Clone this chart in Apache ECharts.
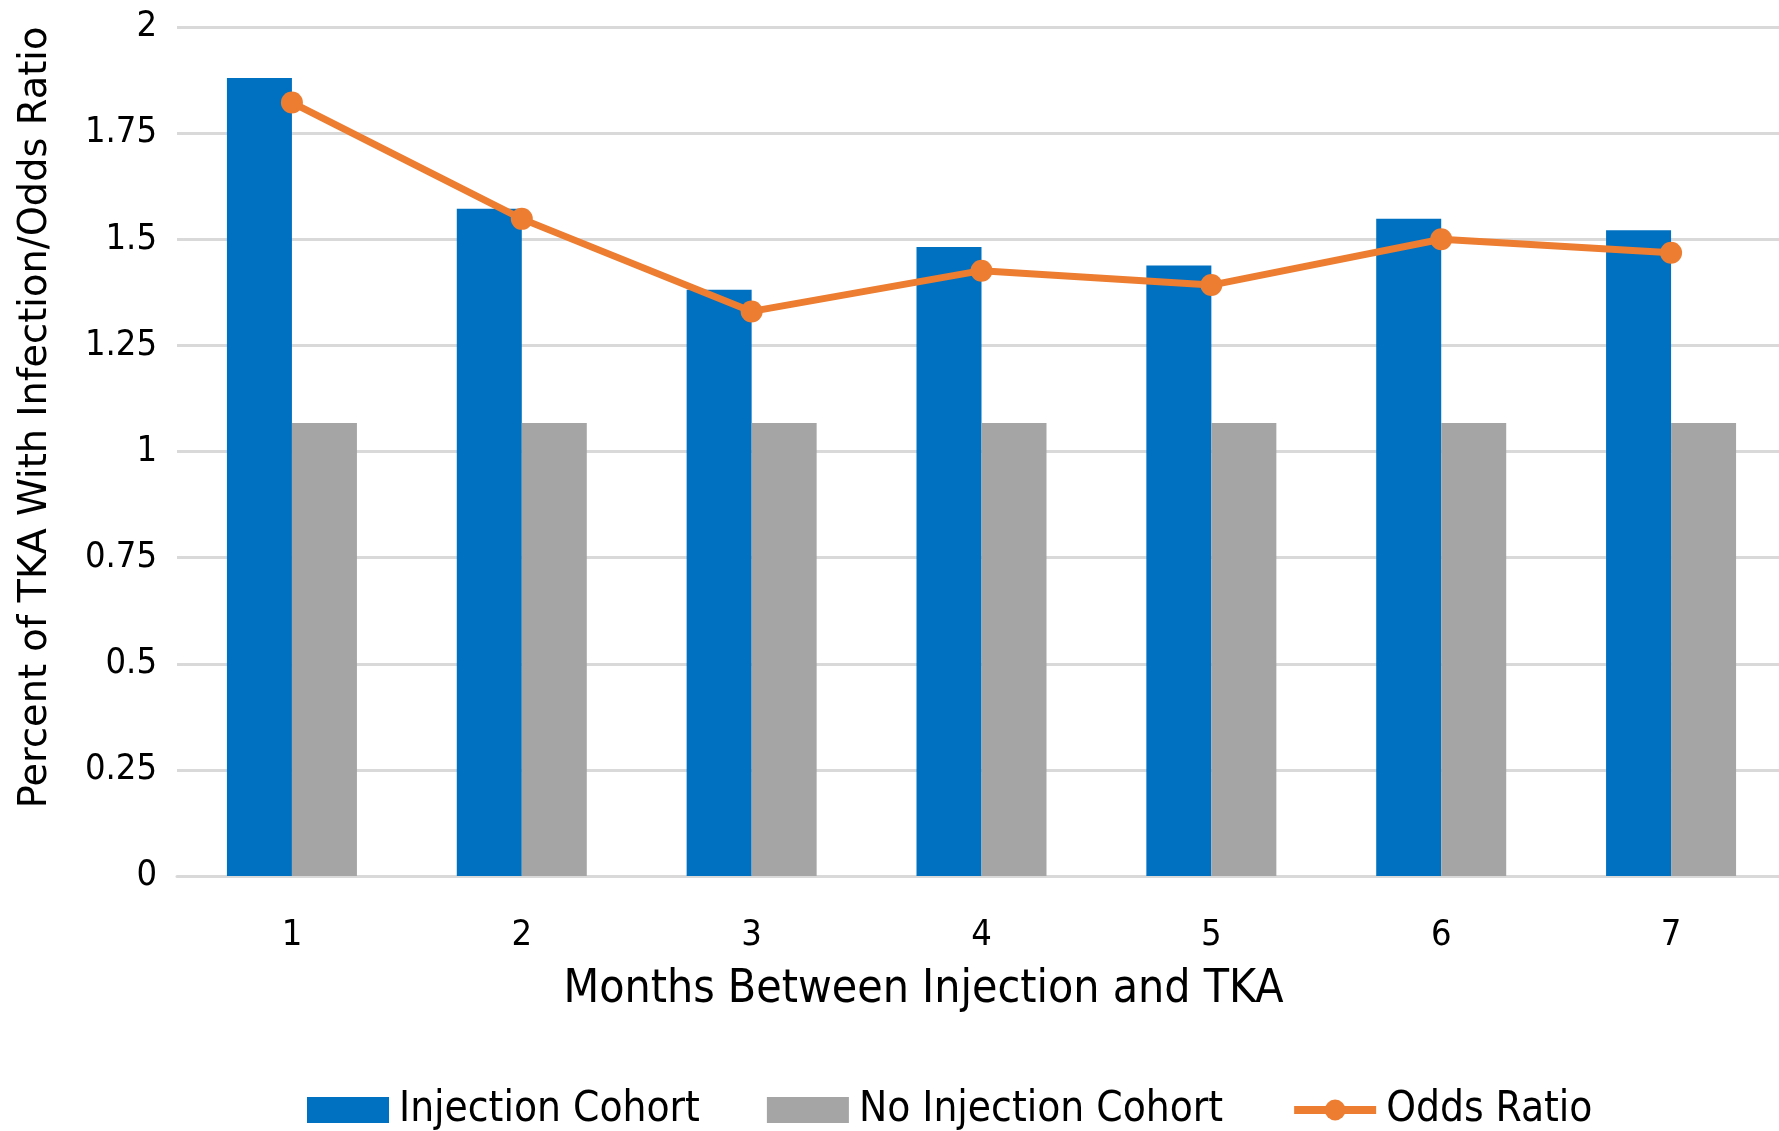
<!DOCTYPE html>
<html>
<head>
<meta charset="utf-8">
<script src="https://cdn.jsdelivr.net/npm/echarts@6/dist/echarts.min.js"></script>
<style>
  html, body { margin: 0; padding: 0; background: #ffffff; overflow: hidden; }
  /* the plot area runs a few pixels past the right edge of the page */
  #chart { width: 1786px; height: 1131px; }
</style>
</head>
<body>
<div id="chart"></div>
<script>
// Months between injection and TKA
const months = ['1', '2', '3', '4', '5', '6', '7'];
// Percent of TKA with infection, by cohort
const injectionCohort = [1.88, 1.572, 1.381, 1.482, 1.438, 1.548, 1.521];
const noInjectionCohort = [1.067, 1.067, 1.067, 1.067, 1.067, 1.067, 1.067];
// Odds ratio of infection, injection vs. no injection
const oddsRatio = [1.822, 1.548, 1.33, 1.426, 1.392, 1.50, 1.468];
// Value axis ticks
const yTicks = [0, 0.25, 0.5, 0.75, 1, 1.25, 1.5, 1.75, 2];

const narrow = "'DejaVu Sans Condensed', 'Liberation Sans Narrow', 'Open Sans', sans-serif";
const chart = echarts.init(document.getElementById('chart'), null, { renderer: 'canvas' });

chart.setOption({
  backgroundColor: '#ffffff',
  animation: false,
  grid: { left: 177, right: 0, top: 27, bottom: 255, containLabel: false },
  legend: {
    top: 1084,
    left: 302,
    itemWidth: 82,
    itemHeight: 26,
    itemGap: 67,
    textStyle: { fontFamily: narrow, fontSize: 42, color: '#000000', padding: [0, 0, 0, 5] },
    data: [
      { name: 'Injection Cohort', icon: 'rect' },
      { name: 'No Injection Cohort', icon: 'rect' },
      { name: 'Odds Ratio', lineStyle: { width: 8 } }
    ]
  },
  xAxis: {
    type: 'category',
    data: months,
    name: 'Months Between Injection and TKA',
    nameLocation: 'middle',
    nameGap: 91,
    nameTextStyle: { fontFamily: narrow, fontSize: 46, color: '#000000', padding: [0, 116, 0, 0] },
    axisLine: { show: true, lineStyle: { color: '#D9D9D9', width: 3 } },
    axisTick: { show: false },
    axisLabel: { fontFamily: narrow, fontSize: 36, color: '#000000', margin: 42 }
  },
  yAxis: {
    type: 'value',
    min: 0,
    max: 2,
    interval: 0.25,
    name: 'Percent of TKA With Infection/Odds Ratio',
    nameLocation: 'middle',
    nameGap: 122,
    nameTextStyle: { fontFamily: "'DejaVu Sans', sans-serif", fontSize: 38.4, color: '#000000', padding: [0, 0, 0, 68] },
    axisLine: { show: false },
    axisTick: { show: false },
    splitLine: { lineStyle: { color: '#D9D9D9', width: 3 } },
    axisLabel: {
      fontFamily: narrow, fontSize: 36, color: '#000000', margin: 20,
      formatter: v => (yTicks.includes(v) ? String(v) : '')
    }
  },
  series: [
    {
      name: 'Injection Cohort',
      type: 'bar',
      data: injectionCohort,
      barWidth: 65,
      barGap: '0%',
      itemStyle: { color: '#0070C0' }
    },
    {
      name: 'No Injection Cohort',
      type: 'bar',
      data: noInjectionCohort,
      barWidth: 65,
      itemStyle: { color: '#A5A5A5' }
    },
    {
      name: 'Odds Ratio',
      type: 'line',
      data: oddsRatio,
      symbol: 'circle',
      symbolSize: 22,
      lineStyle: { color: '#ED7D31', width: 7 },
      itemStyle: { color: '#ED7D31' },
      z: 5
    }
  ]
});
</script>
</body>
</html>
